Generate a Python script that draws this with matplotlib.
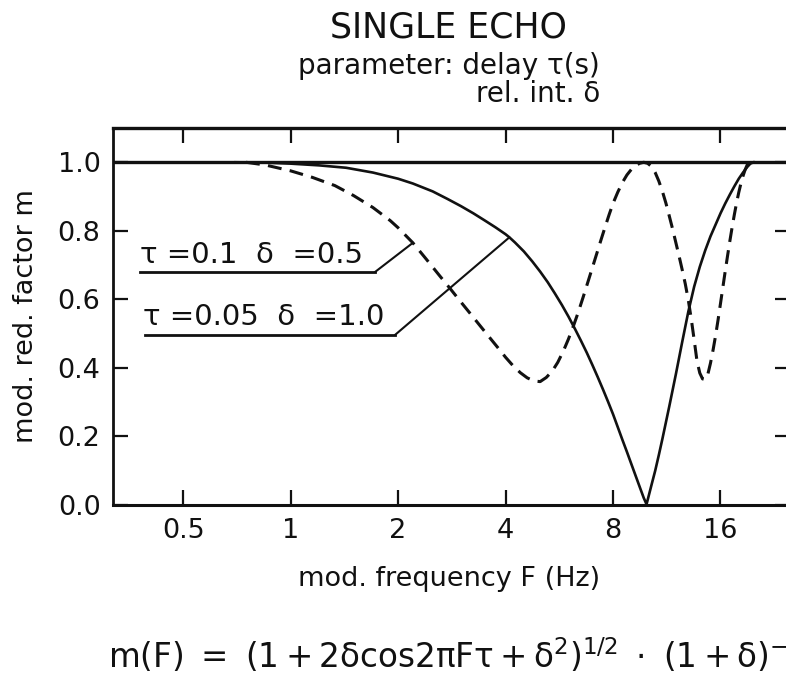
import matplotlib
matplotlib.use("Agg")
import matplotlib.pyplot as plt

plt.rcParams['font.family'] = ['DejaVu Sans']
plt.rcParams['mathtext.default'] = 'regular'
plt.rcParams['lines.scale_dashes'] = False

# ---- data ----
# dashed curve: tau = 0.1 s, delta = 0.5
f_dash = [0.75, 0.85, 1.0, 1.15, 1.33, 1.5, 1.7, 1.9, 2.0, 2.2, 2.4, 2.6, 2.8, 3.0, 3.2, 3.4,
          3.6, 3.8, 4.0, 4.2, 4.4, 4.6, 4.8, 5.0, 5.2, 5.4, 5.6, 5.8, 6.0, 6.2, 6.4, 6.6, 6.8,
          7.0, 7.2, 7.4, 7.6, 7.8, 8.0, 8.25, 8.5, 8.75, 9.0, 9.25, 9.5, 9.75, 10.0, 10.25,
          10.5, 10.75, 11.0, 11.25, 11.5, 11.75, 12.0, 12.25, 12.5, 12.75, 13.0, 13.25, 13.5,
          13.75, 14.0, 14.25, 14.5, 14.75, 15.0, 15.25, 15.5, 15.75, 16.0, 16.25, 16.5, 16.75,
          17.0, 17.25, 17.5, 17.75, 18.0, 18.25, 18.5, 18.75, 19.0, 19.2]
m_dash = [1.000, 0.992, 0.975, 0.956, 0.932, 0.903, 0.868, 0.830, 0.809, 0.765, 0.717, 0.672,
          0.631, 0.592, 0.556, 0.522, 0.490, 0.460, 0.431, 0.406, 0.386, 0.371, 0.362, 0.360,
          0.372, 0.390, 0.416, 0.448, 0.484, 0.523, 0.564, 0.607, 0.650, 0.692, 0.733, 0.773,
          0.811, 0.847, 0.880, 0.913, 0.941, 0.963, 0.979, 0.990, 0.997, 1.000, 0.997, 0.988,
          0.970, 0.945, 0.915, 0.881, 0.843, 0.805, 0.765, 0.726, 0.686, 0.645, 0.598, 0.543,
          0.482, 0.420, 0.385, 0.368, 0.366, 0.382, 0.414, 0.452, 0.494, 0.540, 0.588, 0.636,
          0.683, 0.728, 0.771, 0.811, 0.848, 0.882, 0.912, 0.938, 0.960, 0.978, 0.992, 1.000]
# solid curve: tau = 0.05 s, delta = 1.0
f_solid = [0.7, 0.85, 1.0, 1.2, 1.43, 1.7, 2.0, 2.2, 2.5, 2.75, 3.0, 3.25, 3.5, 3.75, 4.0, 4.1,
           4.25, 4.5, 4.75, 5.0, 5.25, 5.5, 5.75, 6.0, 6.25, 6.5, 6.75, 7.0, 7.25, 7.5, 7.75,
           8.0, 8.25, 8.5, 8.75, 9.0, 9.25, 9.5, 9.75, 9.93, 10.25, 10.5, 10.75, 11.0, 11.5,
           12.0, 12.5, 13.0, 13.5, 14.0, 14.5, 15.0, 15.5, 16.0, 16.5, 17.0, 17.5, 18.0, 18.5,
           19.0, 19.4, 19.8]
m_solid = [1.000, 0.999, 0.996, 0.991, 0.984, 0.970, 0.952, 0.938, 0.915, 0.893, 0.872, 0.851,
           0.830, 0.810, 0.790, 0.781, 0.766, 0.740, 0.711, 0.681, 0.650, 0.617, 0.584, 0.550,
           0.515, 0.480, 0.445, 0.409, 0.373, 0.337, 0.301, 0.265, 0.227, 0.190, 0.155, 0.120,
           0.086, 0.053, 0.021, 0.002, 0.058, 0.100, 0.146, 0.193, 0.288, 0.382, 0.476, 0.564,
           0.637, 0.695, 0.743, 0.784, 0.818, 0.851, 0.880, 0.906, 0.930, 0.952, 0.970, 0.986,
           0.996, 1.000]
x_ticks = [0.5, 1, 2, 4, 8, 16]
x_ticklabels = ["0.5", "1", "2", "4", "8", "16"]
y_ticks = [0.0, 0.2, 0.4, 0.6, 0.8, 1.0]
y_ticklabels = ["0.0", "0.2", "0.4", "0.6", "0.8", "1.0"]
label_dash = "τ =0.1  δ  =0.5"
label_solid = "τ =0.05  δ  =1.0"
i_dash_lead = f_dash.index(2.2)
i_solid_lead = f_solid.index(4.1)

W, H = 786, 680
fig = plt.figure(figsize=(W / 100, H / 100), dpi=100)
ax = fig.add_axes([113 / W, 1 - 505 / H, (790 - 113) / W, (505 - 128) / H])
ax.set_xscale('log')
ax.set_xlim(0.318, 25.05)
ax.set_ylim(0, 1.1)

ink = '#111111'
ax.axhline(1.0, color=ink, lw=2.4)
ax.plot(f_solid, m_solid, color=ink, lw=1.9)
ax.plot(f_dash, m_dash, color=ink, lw=2.2, dashes=(10, 6))

for s in ax.spines.values():
    s.set_linewidth(2.0)
    s.set_color(ink)
ax.spines['top'].set_linewidth(2.4)
ax.spines['bottom'].set_linewidth(2.2)

ax.set_xticks(x_ticks)
ax.set_xticklabels(x_ticklabels)
ax.xaxis.set_minor_locator(matplotlib.ticker.NullLocator())
ax.set_yticks(y_ticks)
ax.set_yticklabels(y_ticklabels)
ax.tick_params(axis='both', which='major', direction='in', length=10.5, width=1.6,
               top=True, right=True, labelsize=19.5, pad=9, colors=ink)

ax.set_xlabel("mod. frequency F (Hz)", fontsize=19.5, color=ink)
ax.xaxis.set_label_coords(0.497, -0.162)
ax.set_ylabel("mod. red. factor m", fontsize=19.5, color=ink)
ax.yaxis.set_label_coords(-0.110, 0.5)

# in-plot labels with underline and leader
ax.text(0.040, 0.642, label_dash, transform=ax.transAxes, fontsize=21, color=ink,
        va='baseline', ha='left')
ax.plot([0.040, 0.387], [0.618, 0.618], transform=ax.transAxes, color=ink, lw=2.0)
ax.annotate("", xy=(f_dash[i_dash_lead], m_dash[i_dash_lead]), xycoords='data',
            xytext=(0.387, 0.618), textcoords='axes fraction',
            arrowprops=dict(arrowstyle='-', shrinkA=0, shrinkB=0, lw=1.5, color=ink))

ax.text(0.044, 0.4775, label_solid, transform=ax.transAxes, fontsize=21, color=ink,
        va='baseline', ha='left')
ax.plot([0.047, 0.4165], [0.451, 0.451], transform=ax.transAxes, color=ink, lw=2.0)
ax.annotate("", xy=(f_solid[i_solid_lead], m_solid[i_solid_lead]), xycoords='data',
            xytext=(0.4165, 0.451), textcoords='axes fraction',
            arrowprops=dict(arrowstyle='-', shrinkA=0, shrinkB=0, lw=1.5, color=ink))

# titles
fig.text(449 / W, 1 - 37 / H, "SINGLE ECHO", ha='center', va='baseline', fontsize=25, color=ink)
fig.text(600 / W, 1 - 73.5 / H, "parameter: delay τ(s)", ha='right', va='baseline',
         fontsize=20, color=ink)
fig.text(600 / W, 1 - 101.5 / H, "rel. int. δ", ha='right', va='baseline', fontsize=20, color=ink)

# formula
fig.text(108 / W, 1 - 668 / H,
         r"$m(F)\ =\ (1+2\delta cos2\pi F\tau+\delta^{2})^{1/2}\ \cdot\ (1+\delta)^{-1}$",
         ha='left', va='baseline', fontsize=23.5, color=ink)

fig.savefig("out.png", dpi=100)
